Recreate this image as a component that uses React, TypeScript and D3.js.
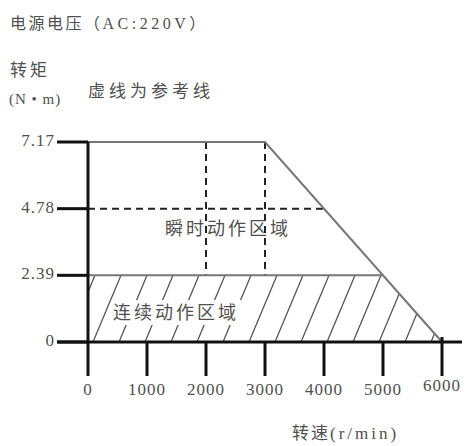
import React from 'react';
import * as d3 from 'd3';

// 数据
const speedTicks = [0, 1000, 2000, 3000, 4000, 5000, 6000];
const torqueTicks = [0, 2.39, 4.78, 7.17];
const torqueLabels = ['0', '2.39', '4.78', '7.17'];
// 转矩曲线 (转速, 转矩)
const curveSpeed = [0, 3000, 6000];
const curveTorque = [7.17, 7.17, 0];
// 连续区域
const contSpeed = [0, 0, 5000, 6000];
const contTorque = [0, 2.39, 2.39, 0];
// 参考虚线
const refLines = [
  { s1: 0, t1: 4.78, s2: 4000, t2: 4.78 },
  { s1: 2000, t1: 7.17, s2: 2000, t2: 2.39 },
  { s1: 3000, t1: 7.17, s2: 3000, t2: 2.39 },
];

const W = 465;
const H = 446;
const cjk = '"Noto Sans CJK SC", sans-serif';
const serif = '"Liberation Serif", serif';
const txt = '#505050';

export default function App() {
  const x = d3.scaleLinear().domain([0, 6000]).range([88, 442]);
  const y = d3.scaleLinear().domain([0, 7.17]).range([342, 142]);

  const curve = d3.line<number>()
    .x((d, i) => x(curveSpeed[i]))
    .y((d, i) => y(curveTorque[i]));
  const cont = d3.line<number>()
    .x((d, i) => x(contSpeed[i]))
    .y((d, i) => y(contTorque[i]));

  // 斜线阴影
  const hatchStep = 26;
  const hatchLean = 28;
  const hatches = d3.range(-2, 16).map(k => x(0) + 5 + k * hatchStep);

  return (
    <svg width={W} height={H} style={{ position: 'absolute', left: 0, top: 0, background: '#fff' }}>
      <defs>
        <clipPath id="contClip">
          <path d={cont(contSpeed) + 'Z'} />
        </clipPath>
      </defs>

      {/* 标题 */}
      <text x={10} y={29} fontFamily={cjk} fontSize={16} fill={txt} letterSpacing={2.5}>
        电源电压（<tspan fontFamily={serif} letterSpacing={3.5}>AC:220V</tspan>）
      </text>
      <text x={10} y={76} fontFamily={cjk} fontSize={17} fill={txt} letterSpacing={3}>转矩</text>
      <text x={9} y={104} fontFamily={serif} fontSize={15} fill={txt} letterSpacing={1}>(N • m)</text>
      <text x={88} y={97} fontFamily={cjk} fontSize={17} fill={txt} letterSpacing={4}>虚线为参考线</text>

      {/* 斜线 */}
      <g clipPath="url(#contClip)" stroke="#555" strokeWidth={1.3}>
        {hatches.map((hx, i) => (
          <line key={i} x1={hx} y1={y(0)} x2={hx + hatchLean} y2={y(2.39)} />
        ))}
      </g>

      {/* 区域文字 */}
      <rect x={111} y={300} width={130} height={25} fill="#fff" />
      <text x={113} y={319} fontFamily={cjk} fontSize={18} fill={txt} letterSpacing={3}>连续动作区域</text>

      {/* 参考虚线 */}
      <g stroke="#222" strokeWidth={2} strokeDasharray="7,5">
        {refLines.map((l, i) => (
          <line key={i} x1={x(l.s1)} y1={y(l.t1)} x2={x(l.s2)} y2={y(l.t2)} />
        ))}
      </g>
      <text x={165} y={235} fontFamily={cjk} fontSize={18} fill={txt} letterSpacing={3}>瞬时动作区域</text>

      {/* 曲线 */}
      <path d={curve(curveSpeed) || ''} fill="none" stroke="#777" strokeWidth={2} />
      <line x1={x(0)} y1={y(2.39)} x2={x(5000)} y2={y(2.39)} stroke="#777" strokeWidth={2} />

      {/* 坐标轴 */}
      <line x1={57} x2={462} y1={y(0)} y2={y(0)} stroke="#111" strokeWidth={3} />
      <line x1={x(0)} x2={x(0)} y1={y(7.17)} y2={y(0)} stroke="#111" strokeWidth={3} />
      {torqueTicks.map((t, i) => (
        <g key={'yt' + i}>
          <line x1={57} x2={x(0)} y1={y(t)} y2={y(t)} stroke="#111" strokeWidth={3} />
          <text x={55} y={y(t) + 4} textAnchor="end" fontFamily={serif} fontSize={17} fill={txt} letterSpacing={1}>
            {torqueLabels[i]}
          </text>
        </g>
      ))}
      {speedTicks.map((s, i) => (
        <g key={'xt' + i}>
          <line x1={x(s)} x2={x(s)} y1={s === 6000 ? y(0) - 5 : y(0)} y2={376} stroke="#111" strokeWidth={3} />
          <text x={x(s)} y={s === 6000 ? 391 : 395} textAnchor="middle" fontFamily={serif} fontSize={17} fill={txt} letterSpacing={1}>
            {s}
          </text>
        </g>
      ))}
      <text x={292} y={439} fontFamily={cjk} fontSize={17} fill={txt} letterSpacing={2}>
        转速<tspan fontFamily={serif} letterSpacing={3}>(r/min)</tspan>
      </text>
    </svg>
  );
}
